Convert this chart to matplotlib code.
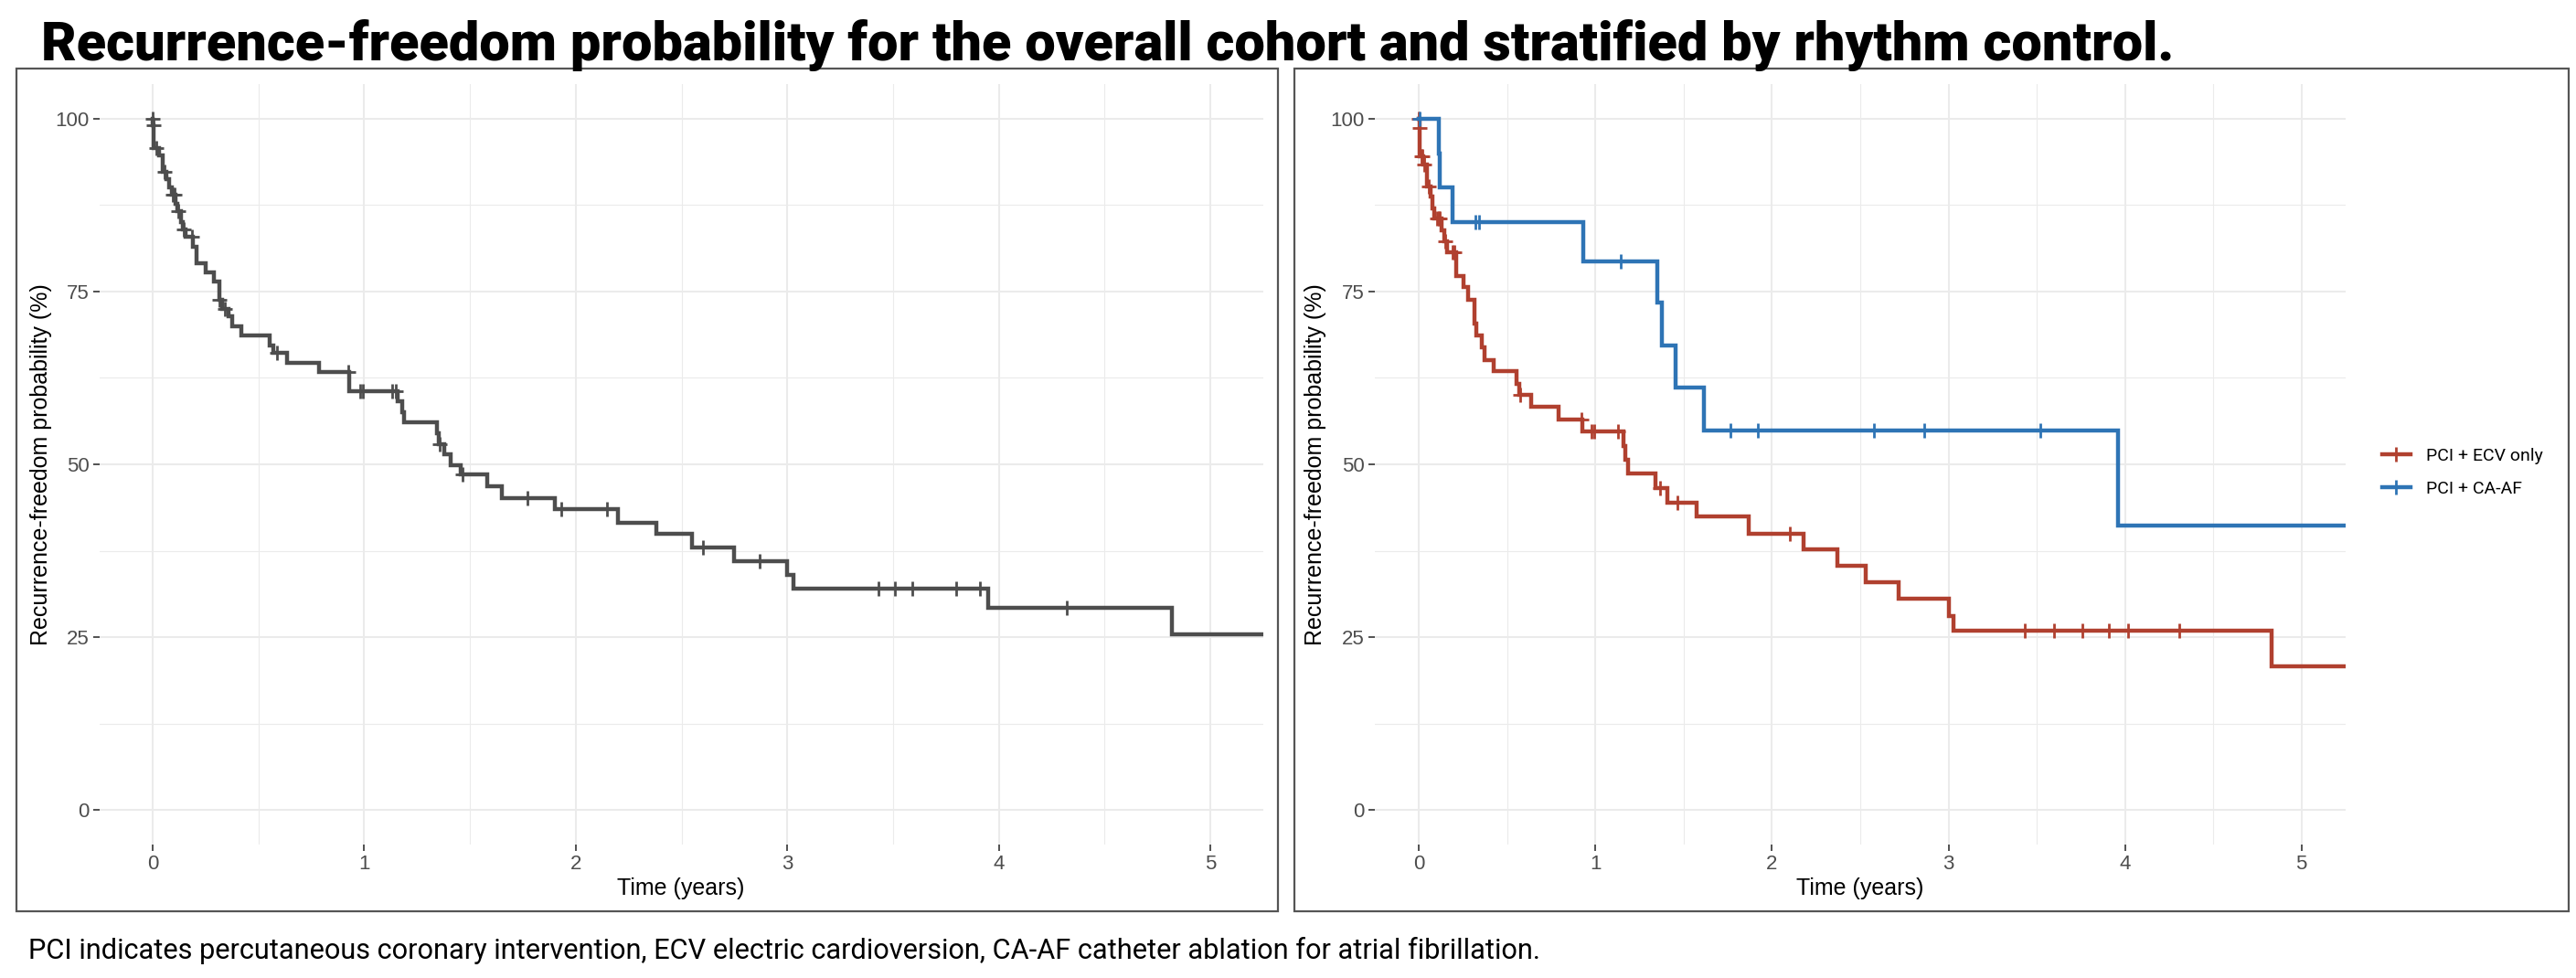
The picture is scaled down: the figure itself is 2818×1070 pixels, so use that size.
import numpy as np
import matplotlib.pyplot as plt
from matplotlib.patches import Rectangle
from matplotlib.lines import Line2D

plt.rcParams['font.family'] = ['Liberation Sans', 'DejaVu Sans']

W, H, DPI = 2818, 1070, 200

# overall cohort: step times (years) and survival after each step (%)
times_all = [0, 0.002, 0.006, 0.03, 0.05, 0.065, 0.078, 0.09, 0.11, 0.118, 0.135,
             0.145, 0.155, 0.19, 0.21, 0.25, 0.29, 0.315, 0.33, 0.36, 0.375, 0.418,
             0.553, 0.57, 0.634, 0.788, 0.93, 1.157, 1.18, 1.188, 1.345, 1.355,
             1.38, 1.41, 1.457, 1.58, 1.65, 1.9, 2.2, 2.38, 2.55, 2.75, 3.0, 3.03,
             3.95, 4.82]
surv_all = [100, 99.0, 95.8, 94.7, 92.3, 91.2, 90.1, 89.0, 87.7, 86.6, 85.0,
            84.0, 82.9, 81.5, 79.1, 77.8, 76.5, 73.8, 72.5, 71.4, 69.9, 68.6,
            67.2, 66.1, 64.7, 63.4, 60.6, 59.1, 57.6, 56.1, 54.5, 52.9,
            51.5, 49.9, 48.5, 46.8, 45.1, 43.5, 41.6, 40.0, 38.0, 36.0, 34.0, 32.0,
            29.2, 25.4]
censor_all = [0.001, 0.004, 0.018, 0.057, 0.095, 0.103, 0.12, 0.149, 0.188, 0.318,
              0.342, 0.588, 0.926, 0.98, 0.995, 1.134, 1.149, 1.357, 1.465, 1.77,
              1.93, 2.15, 2.6, 2.87, 3.43, 3.51, 3.59, 3.80, 3.91, 4.32]

# PCI + ECV only
times_ecv = [0, 0.002, 0.005, 0.027, 0.047, 0.067, 0.078, 0.088, 0.129, 0.143, 0.16,
             0.21, 0.25, 0.28, 0.313, 0.327, 0.354, 0.374, 0.421, 0.552, 0.569,
             0.634, 0.789, 0.926, 1.157, 1.17, 1.182, 1.342, 1.407, 1.571, 1.867,
             2.178, 2.368, 2.532, 2.72, 3.0, 3.03, 4.83]
surv_ecv = [100, 98.7, 94.6, 93.3, 90.2, 88.8, 87.0, 85.6, 83.9, 82.3, 80.7,
            77.3, 75.6, 73.8, 70.3, 68.6, 66.9, 65.1, 63.5, 61.7, 60.1,
            58.3, 56.5, 54.8, 52.7, 50.7, 48.7, 46.6, 44.4, 42.4, 40.0,
            37.7, 35.3, 33.0, 30.6, 28.0, 25.9, 20.8]
censor_ecv = [0.001, 0.003, 0.012, 0.02, 0.03, 0.055, 0.1, 0.11, 0.12, 0.15, 0.19,
              0.2, 0.575, 0.92, 0.977, 0.994, 1.125, 1.366, 1.464, 2.102, 3.43,
              3.60, 3.76, 3.91, 4.02, 4.31]

# PCI + CA-AF
times_ca = [0, 0.115, 0.12, 0.19, 0.93, 1.35, 1.376, 1.452, 1.616, 3.96]
surv_ca = [100, 95.0, 90.0, 85.0, 79.3, 73.4, 67.2, 61.1, 54.9, 41.2]
censor_ca = [0.006, 0.32, 0.34, 1.145, 1.765, 1.918, 2.58, 2.86, 3.52]

follow_up_end = 5.6

labels = ['PCI + ECV only', 'PCI + CA-AF']
col_all = '#4D4D4D'
col_ecv = '#B0402F'
col_ca = '#2E74B5'

title = 'Recurrence-freedom probability for the overall cohort and stratified by rhythm control.'
note = ('PCI indicates percutaneous coronary intervention, ECV electric cardioversion, '
        'CA-AF catheter ablation for atrial fibrillation.')
ylab = 'Recurrence-freedom probability (%)'
xlab = 'Time (years)'

narrow = ['Liberation Sans Narrow', 'Roboto', 'DejaVu Sans']
LW, MS, MEW = 1.6, 5.5, 1.0


def km(ax, t, s, cens, color):
    t = list(t) + [follow_up_end]
    s = list(s) + [s[-1]]
    ax.step(t, s, where='post', color=color, lw=LW, solid_joinstyle='miter')
    idx = np.searchsorted(t, cens, side='right') - 1
    ax.plot(cens, np.array(s)[idx], ls='none', marker='+', ms=MS, mew=MEW,
            color=color)


def style(ax):
    ax.set_xlim(-0.25, 5.25)
    ax.set_ylim(-5, 105)
    ax.set_xticks(range(6))
    ax.set_yticks([0, 25, 50, 75, 100])
    ax.set_xticks(np.arange(0.5, 5.5, 1), minor=True)
    ax.set_yticks([12.5, 37.5, 62.5, 87.5], minor=True)
    ax.grid(which='major', color='#EBEBEB', lw=0.75)
    ax.grid(which='minor', color='#EBEBEB', lw=0.4)
    ax.set_axisbelow(True)
    for sp in ax.spines.values():
        sp.set_visible(False)
    ax.tick_params(which='major', length=2.5, width=0.6, color='#333333',
                   labelsize=8, labelcolor='#4D4D4D', pad=1.5)
    ax.tick_params(which='minor', length=0)


fig = plt.figure(figsize=(W / DPI, H / DPI), dpi=DPI)

ax1 = fig.add_axes([109 / W, 1 - 924 / H, 1273 / W, 832 / H])
ax2 = fig.add_axes([1504 / W, 1 - 924 / H, 1062 / W, 832 / H])
style(ax1)
style(ax2)

km(ax1, times_all, surv_all, censor_all, col_all)
km(ax2, times_ecv, surv_ecv, censor_ecv, col_ecv)
km(ax2, times_ca, surv_ca, censor_ca, col_ca)

# panel frames
for x0, x1 in [(18, 1398), (1416, 2810)]:
    fig.patches.append(Rectangle((x0 / W, 1 - 997 / H), (x1 - x0) / W, 922 / H,
                                 transform=fig.transFigure, fill=False,
                                 ec='#555555', lw=0.8))

fig.text(745 / W, 1 - 960 / H, xlab, ha='center', va='top', fontsize=9)
fig.text(2035 / W, 1 - 960 / H, xlab, ha='center', va='top', fontsize=9)
fig.text(45 / W, 1 - 508 / H, ylab, rotation=90, ha='center', va='center', fontsize=9)
fig.text(1439 / W, 1 - 508 / H, ylab, rotation=90, ha='center', va='center', fontsize=9)

handles = [Line2D([], [], color=c, lw=LW, marker='+', ms=MS, mew=MEW)
           for c in (col_ecv, col_ca)]
fig.legend(handles, labels, loc='center left', bbox_to_anchor=(2596 / W, 1 - 517 / H),
           frameon=False, handlelength=1.6, handletextpad=0.9,
           labelspacing=0.9, borderpad=0, prop={'family': narrow, 'size': 7})

t1 = fig.text(45 / W, 1 - 66 / H, title, ha='left', va='baseline', fontsize=26,
              fontweight='heavy', family=narrow)
t2 = fig.text(31 / W, 1 - 1049 / H, note, ha='left', va='baseline', fontsize=9,
              family=narrow)

# fit title and note to their measured widths
r = fig.canvas.get_renderer()
for t, target in [(t1, 2336), (t2, 1659)]:
    w = t.get_window_extent(r).width
    t.set_fontsize(t.get_fontsize() * target / w)

fig.savefig('out.png', dpi=DPI)
